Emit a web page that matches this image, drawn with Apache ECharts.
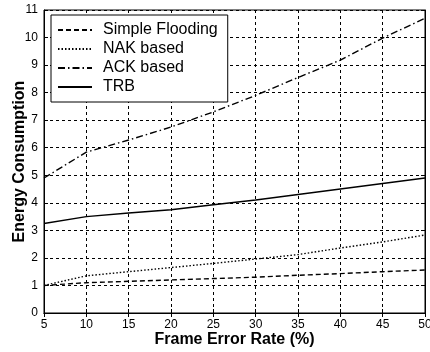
<!DOCTYPE html>
<html><head><meta charset="utf-8">
<script src="https://cdn.jsdelivr.net/npm/echarts@6/dist/echarts.min.js"></script>
<style>html,body{margin:0;padding:0;background:#fff}#c{width:430px;height:352px}</style>
</head><body><div id="c"></div>
<script>
const frameErrorRate = [5, 10, 15, 20, 25, 30, 35, 40, 45, 50];
const simpleFlooding = [1.0, 1.1, 1.15, 1.2, 1.25, 1.3, 1.37, 1.43, 1.5, 1.56];
const nakBased = [1.0, 1.35, 1.5, 1.65, 1.8, 1.96, 2.12, 2.36, 2.58, 2.83];
const ackBased = [4.9, 5.84, 6.28, 6.75, 7.3, 7.9, 8.55, 9.18, 9.98, 10.7];
const trb = [3.25, 3.5, 3.63, 3.75, 3.93, 4.1, 4.3, 4.5, 4.7, 4.9];
const seriesNames = ['Simple Flooding', 'NAK based', 'ACK based', 'TRB'];
const dashTypes = [[5, 3], [1.5, 2], [7, 3, 1.5, 3], 'solid'];
const allValues = [simpleFlooding, nakBased, ackBased, trb];

const chart = echarts.init(document.getElementById('c'));
const font = 'Liberation Sans, Arial, sans-serif';
const splitLine = { show: true, lineStyle: { color: '#000', type: [3, 3], width: 1 } };
chart.setOption({
  animation: false,
  backgroundColor: '#fff',
  grid: { left: 44, right: 5, top: 10, bottom: 39, containLabel: false, outerBoundsMode: 'none', show: true, borderColor: '#000', borderWidth: 1, backgroundColor: 'transparent' },
  legend: {
    orient: 'vertical', left: 51, top: 15,
    itemWidth: 34, itemHeight: 12, itemGap: 3,
    padding: [7, 10, 7, 6],
    borderColor: '#000', borderWidth: 1, backgroundColor: '#fff',
    itemStyle: { opacity: 0 },
    textStyle: { fontFamily: font, fontSize: 16, color: '#000', padding: [0, 0, 0, 6] },
    data: seriesNames
  },
  xAxis: [{
    type: 'value', min: 5, max: 50, interval: 5,
    name: 'Frame Error Rate (%)', nameLocation: 'middle', nameGap: 19, nameMoveOverlap: false,
    nameTextStyle: { fontFamily: font, fontSize: 16, fontWeight: 'bold', color: '#000' },
    axisLine: { show: true, lineStyle: { color: '#000' } },
    axisTick: { show: true, inside: true, length: 4, lineStyle: { color: '#000' } },
    axisLabel: { fontFamily: font, fontSize: 12, color: '#000', margin: 6 },
    splitLine: splitLine
  }, {
    type: 'value', min: 5, max: 50, interval: 5, position: 'top',
    axisLine: { show: true, lineStyle: { color: '#000' } },
    axisTick: { show: true, inside: true, length: 4, lineStyle: { color: '#000' } },
    axisLabel: { show: false }, splitLine: { show: false }
  }],
  yAxis: [{
    type: 'value', min: 0, max: 11, interval: 1,
    name: 'Energy Consumption', nameLocation: 'middle', nameGap: 16, nameMoveOverlap: false,
    nameTextStyle: { fontFamily: font, fontSize: 16, fontWeight: 'bold', color: '#000' },
    axisLine: { show: true, lineStyle: { color: '#000' } },
    axisTick: { show: true, inside: true, length: 4, lineStyle: { color: '#000' } },
    axisLabel: { fontFamily: font, fontSize: 12, color: '#000', margin: 6 },
    splitLine: splitLine
  }, {
    type: 'value', min: 0, max: 11, interval: 1, position: 'right',
    axisLine: { show: true, lineStyle: { color: '#000' } },
    axisTick: { show: true, inside: true, length: 4, lineStyle: { color: '#000' } },
    axisLabel: { show: false }, splitLine: { show: false }
  }],
  series: seriesNames.map((n, i) => ({
    name: n, type: 'line', showSymbol: false, symbol: 'none',
    color: '#000',
    lineStyle: { color: '#000', width: 1.4, type: dashTypes[i] },
    data: frameErrorRate.map((x, j) => [x, allValues[i][j]])
  }))
});
</script></body></html>
